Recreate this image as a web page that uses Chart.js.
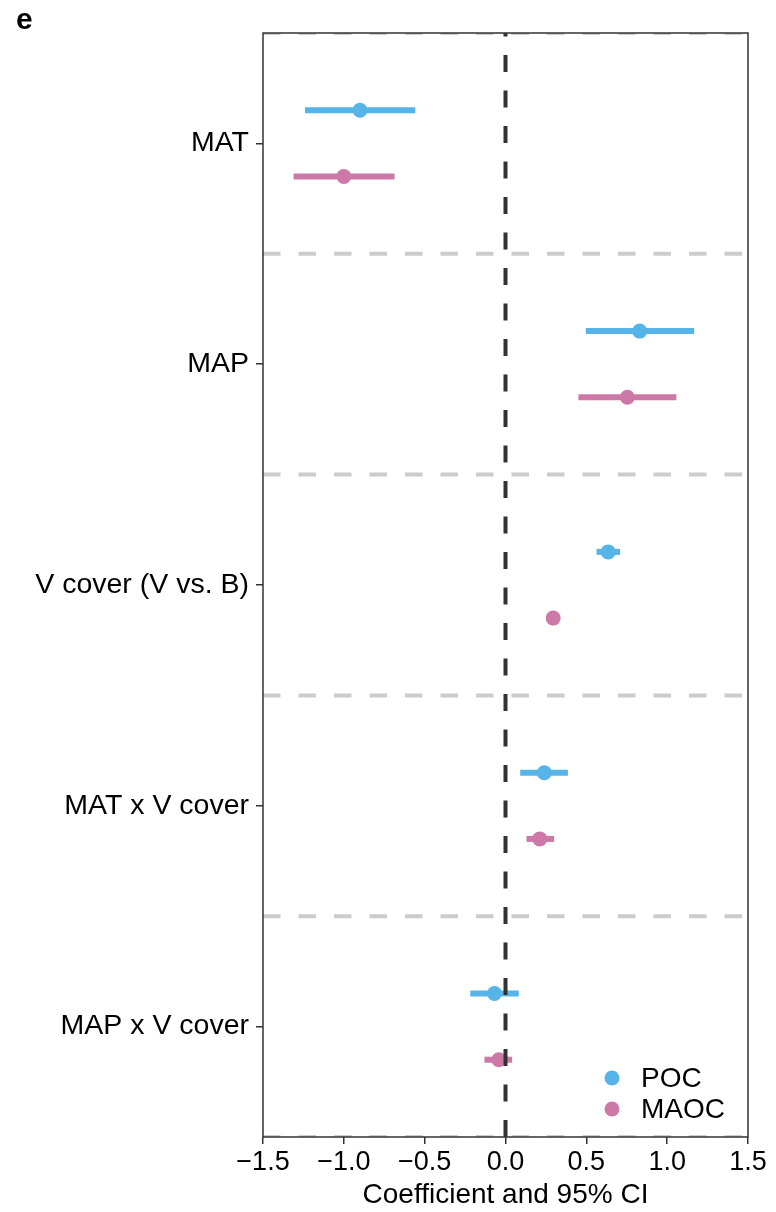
<!DOCTYPE html>
<html>
<head>
<meta charset="utf-8">
<script src="https://cdn.jsdelivr.net/npm/chart.js@4/dist/chart.umd.min.js"></script>
<style>
  html, body { margin: 0; padding: 0; background: #fff; }
  #wrap { width: 776px; height: 1212px; position: relative; }
</style>
</head>
<body>
<div id="wrap"><canvas id="chart"></canvas></div>
<script>
// Forest plot: coefficient + 95% CI per predictor, POC vs MAOC.
const categories = ['MAT', 'MAP', 'V cover (V vs. B)', 'MAT x V cover', 'MAP x V cover'];
const pocEst  = [-0.90, 0.83, 0.635, 0.24, -0.068];
const pocLo   = [-1.24, 0.497, 0.563, 0.091, -0.218];
const pocHi   = [-0.558, 1.167, 0.709, 0.386, 0.082];
const maocEst = [-1.00, 0.754, 0.295, 0.212, -0.041];
const maocLo  = [-1.311, 0.451, 0.285, 0.130, -0.130];
const maocHi  = [-0.686, 1.057, 0.305, 0.301, 0.041];
const xTicks = [-1.5, -1.0, -0.5, 0.0, 0.5, 1.0, 1.5];

const POC_COLOR = '#56B4E9';
const MAOC_COLOR = '#CC79A7';
const FONT = '"Liberation Sans", Arial, Helvetica, sans-serif';
const DODGE = 0.15; // vertical offset of each series inside its category band

const rowY = (i, dir) => i + 0.5 + dir * DODGE;

// one line dataset per confidence interval
function ciSets(lo, hi, color, dir) {
    return categories.map((c, i) => ({
        type: 'line',
        label: '',
        data: [{ x: lo[i], y: rowY(i, dir) }, { x: hi[i], y: rowY(i, dir) }],
        borderColor: color,
        borderWidth: 6,
        borderCapStyle: 'butt',
        pointRadius: 0,
        showLine: true,
        order: 2,
    }));
}

const decor = {
    id: 'decor',
    beforeDatasetsDraw(chart) {
        const { ctx, chartArea: a, scales: { y } } = chart;
        ctx.save();
        ctx.beginPath();
        ctx.rect(a.left, a.top, a.right - a.left, a.bottom - a.top);
        ctx.clip();
        ctx.strokeStyle = '#cccccc';
        ctx.lineWidth = 4;
        ctx.setLineDash([17.5, 18]);
        for (let k = 0; k <= categories.length; k++) {
            const py = y.getPixelForValue(k);
            ctx.beginPath();
            ctx.moveTo(a.left, py);
            ctx.lineTo(a.right, py);
            ctx.stroke();
        }
        ctx.restore();
        ctx.save();
        ctx.strokeStyle = '#333333';
        ctx.lineWidth = 1.5;
        ctx.strokeRect(a.left, a.top, a.right - a.left, a.bottom - a.top);
        ctx.restore();
    },
    afterDatasetsDraw(chart) {
        const { ctx, chartArea: a, scales: { x } } = chart;
        const px = x.getPixelForValue(0);
        ctx.save();
        ctx.strokeStyle = '#333333';
        ctx.lineWidth = 4;
        ctx.setLineDash([17, 18.5]);
        ctx.beginPath();
        ctx.moveTo(px, a.bottom);
        ctx.lineTo(px, a.top);
        ctx.stroke();
        ctx.restore();
    },
    afterDraw(chart) {
        const { ctx, chartArea: a } = chart;
        ctx.save();
        // panel tag
        ctx.fillStyle = '#000';
        ctx.font = 'bold 30px ' + FONT;
        ctx.textBaseline = 'middle';
        ctx.textAlign = 'left';
        ctx.fillText('e', 16, 21);
        // legend inside the panel, bottom right
        const items = [['POC', POC_COLOR], ['MAOC', MAOC_COLOR]];
        ctx.font = '28px ' + FONT;
        items.forEach(([name, color], k) => {
            const cy = a.bottom - 59 + k * 31;
            const cx = a.right - 136;
            ctx.beginPath();
            ctx.fillStyle = color;
            ctx.arc(cx, cy, 7.5, 0, Math.PI * 2);
            ctx.fill();
            ctx.fillStyle = '#000';
            ctx.fillText(name, cx + 29, cy + 1);
        });
        ctx.restore();
    },
};

new Chart(document.getElementById('chart'), {
    type: 'scatter',
    data: {
        datasets: [
            ...ciSets(pocLo, pocHi, POC_COLOR, -1),
            ...ciSets(maocLo, maocHi, MAOC_COLOR, 1),
            {
                label: 'POC',
                data: pocEst.map((v, i) => ({ x: v, y: rowY(i, -1) })),
                backgroundColor: POC_COLOR,
                borderWidth: 0,
                pointRadius: 7.5,
                order: 1,
            },
            {
                label: 'MAOC',
                data: maocEst.map((v, i) => ({ x: v, y: rowY(i, 1) })),
                backgroundColor: MAOC_COLOR,
                borderWidth: 0,
                pointRadius: 7.5,
                order: 1,
            },
        ],
    },
    options: {
        responsive: true,
        maintainAspectRatio: false,
        animation: false,
        layout: { padding: { top: 33, right: 28, left: 0, bottom: 0 } },
        plugins: {
            legend: { display: false },
            tooltip: { enabled: false },
        },
        scales: {
            x: {
                type: 'linear',
                min: -1.5,
                max: 1.5,
                afterBuildTicks: (s) => { s.ticks = xTicks.map((v) => ({ value: v })); },
                afterFit: (s) => { s.height = 75; },
                ticks: {
                    color: '#000',
                    font: { family: FONT, size: 27 },
                    padding: 2,
                    maxRotation: 0,
                    callback: (v) => (v < 0 ? '\u2212' : '') + Math.abs(v).toFixed(1),
                },
                grid: { drawOnChartArea: false, drawTicks: true, tickLength: 7, tickColor: '#333', lineWidth: 1.5 },
                border: { display: false },
                title: {
                    display: true,
                    text: 'Coefficient and 95% CI',
                    color: '#000',
                    font: { family: FONT, size: 28 },
                    padding: { top: 0, bottom: 0 },
                },
            },
            y: {
                type: 'linear',
                min: 0,
                max: categories.length,
                reverse: true,
                afterBuildTicks: (s) => { s.ticks = categories.map((c, i) => ({ value: i + 0.5 })); },
                afterFit: (s) => { s.width = 263; },
                ticks: {
                    color: '#000',
                    autoSkip: false,
                    font: { family: FONT, size: 28.5 },
                    padding: 7,
                    callback: (v, i) => categories[i],
                },
                grid: { drawOnChartArea: false, drawTicks: true, tickLength: 7, tickColor: '#333', lineWidth: 1.5 },
                border: { display: false },
            },
        },
    },
    plugins: [decor],
});
</script>
</body>
</html>
